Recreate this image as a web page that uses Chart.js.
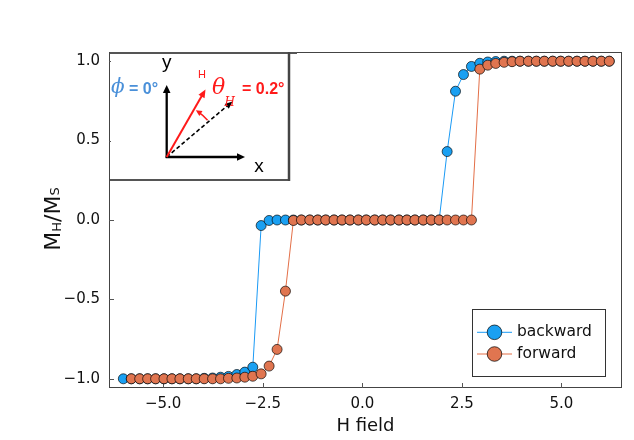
<!DOCTYPE html>
<html><head><meta charset="utf-8">
<script src="https://cdn.jsdelivr.net/npm/chart.js@4/dist/chart.umd.min.js"></script>
<style>html,body{margin:0;padding:0;background:#fff;overflow:hidden;}</style>
</head><body>
<canvas id="c" width="634" height="440"></canvas>
<script>
// ---- data ----
const hField = [-6.00,-5.80,-5.59,-5.39,-5.19,-4.98,-4.78,-4.58,-4.37,-4.17,
  -3.97,-3.76,-3.56,-3.36,-3.15,-2.95,-2.75,-2.54,-2.34,-2.14,
  -1.93,-1.73,-1.53,-1.32,-1.12,-0.92,-0.71,-0.51,-0.31,-0.10,
  0.10,0.31,0.51,0.71,0.92,1.12,1.32,1.53,1.73,1.93,
  2.13,2.34,2.54,2.74,2.95,3.15,3.35,3.56,3.76,3.96,
  4.17,4.37,4.57,4.78,4.98,5.18,5.39,5.59,5.79,6.00,6.20];
const backward = [-1.0,-1.0,-1.0,-1.0,-1.0,-1.0,-1.0,-1.0,-1.0,-1.0,
  -0.997,-0.995,-0.99,-0.985,-0.973,-0.958,-0.927,-0.035,-0.003,0.0,
  0.0,0.0,0.0,0.0,0.0,0.0,0.0,0.0,0.0,0.0,
  0.0,0.0,0.0,0.0,0.0,0.0,0.0,0.0,0.0,0.0,
  0.431,0.811,0.916,0.967,0.987,0.995,0.998,1.0,1.0,1.0,
  1.0,1.0,1.0,1.0,1.0,1.0,1.0,1.0,1.0,1.0,1.0];
const forward = [null,-1.0,-1.0,-1.0,-1.0,-1.0,-1.0,-1.0,-1.0,-1.0,
  -1.0,-1.0,-1.0,-0.997,-0.995,-0.99,-0.984,-0.969,-0.92,-0.815,
  -0.448,-0.003,0.0,0.0,0.0,0.0,0.0,0.0,0.0,0.0,
  0.0,0.0,0.0,0.0,0.0,0.0,0.0,0.0,0.0,0.0,
  0.0,0.0,0.0,0.0,0.95,0.975,0.986,0.993,0.997,1.0,
  1.0,1.0,1.0,1.0,1.0,1.0,1.0,1.0,1.0,1.0,1.0];
const seriesNames = ['backward','forward'];
const seriesColors = ['#1aa0f2','#e07550'];
const xTicks = [-5.0,-2.5,0.0,2.5,5.0];
const yTicks = [-1.0,-0.5,0.0,0.5,1.0];
const xTitle = 'H field';

const fmt = v => (v < 0 ? '\u2212' : '') + Math.abs(v).toFixed(1);
const FONT = 'DejaVu Sans';

function pts(ys){ return hField.map((x,i)=>({x:x, y:ys[i]})).filter(p=>p.y!==null); }

function arrowHead(ctx,x1,y1,x2,y2,len,w,color){
  const a=Math.atan2(y2-y1,x2-x1), c=Math.cos(a), s=Math.sin(a);
  ctx.save(); ctx.fillStyle=color; ctx.beginPath();
  ctx.moveTo(x2,y2);
  ctx.lineTo(x2-len*c+w*s, y2-len*s-w*c);
  ctx.lineTo(x2-len*c-w*s, y2-len*s+w*c);
  ctx.closePath(); ctx.fill(); ctx.restore();
}

const framePlugin = {
  id:'frame',
  beforeDatasetsDraw(chart){
    const {ctx, chartArea:a, scales:{x,y}} = chart;
    ctx.save();
    ctx.strokeStyle='#444'; ctx.lineWidth=1;
    ctx.strokeRect(a.left+0.5, a.top+0.5, a.right-a.left-1, a.bottom-a.top-1);
    ctx.strokeStyle='#555';
    ctx.beginPath();
    xTicks.forEach(v=>{const px=Math.round(x.getPixelForValue(v))+0.5; ctx.moveTo(px,a.bottom); ctx.lineTo(px,a.bottom-5);});
    yTicks.forEach(v=>{const py=Math.round(y.getPixelForValue(v))+0.5; ctx.moveTo(a.left,py); ctx.lineTo(a.left+5,py);});
    ctx.stroke();
    // y axis title with subscripts
    ctx.translate(60, 219); ctx.rotate(-Math.PI/2);
    ctx.fillStyle='#111'; ctx.textBaseline='alphabetic'; ctx.textAlign='left';
    const segs=[['M',22,0],['H',13,0.5],['/',22,0],['M',22,0],['S',13,-1.5]];
    let total=0;
    segs.forEach(s=>{ctx.font=s[1]+'px "'+FONT+'"'; total+=ctx.measureText(s[0]).width;});
    let cx=-total/2;
    segs.forEach(s=>{ctx.font=s[1]+'px "'+FONT+'"'; ctx.fillText(s[0],cx,s[2]); cx+=ctx.measureText(s[0]).width;});
    ctx.restore();
  }
};

const legendPlugin = {
  id:'customLegend',
  afterDatasetsDraw(chart){
    const ctx=chart.ctx;
    ctx.save();
    ctx.fillStyle='#fff'; ctx.fillRect(472,309,133,67);
    ctx.strokeStyle='#333'; ctx.lineWidth=1;
    ctx.strokeRect(472.5,309.5,133,67);
    const ys=[332.3,354];
    chart.data.datasets.forEach((ds,i)=>{
      const y=ys[i];
      ctx.strokeStyle=ds.borderColor; ctx.lineWidth=1;
      ctx.beginPath(); ctx.moveTo(477,y); ctx.lineTo(512,y); ctx.stroke();
      ctx.beginPath(); ctx.arc(494.5,y,7.3,0,Math.PI*2);
      ctx.fillStyle=ds.pointBackgroundColor; ctx.fill();
      ctx.strokeStyle='rgba(0,0,0,0.7)'; ctx.stroke();
      ctx.fillStyle='#111'; ctx.font='15.5px "'+FONT+'"';
      ctx.textBaseline='middle'; ctx.textAlign='left';
      ctx.fillText(ds.label,517,y);
    });
    ctx.restore();
  }
};

const insetPlugin = {
  id:'inset',
  afterDraw(chart){
    const ctx=chart.ctx;
    ctx.save();
    ctx.fillStyle='#fff'; ctx.fillRect(111,53,178,127);
    ctx.strokeStyle='#555'; ctx.lineWidth=2;
    ctx.beginPath(); ctx.moveTo(110,53); ctx.lineTo(297,53); ctx.stroke();
    ctx.beginPath(); ctx.moveTo(110,180); ctx.lineTo(290,180); ctx.stroke();
    ctx.strokeStyle='#444'; ctx.lineWidth=2.5;
    ctx.beginPath(); ctx.moveTo(289,52); ctx.lineTo(289,181); ctx.stroke();
    const ox=166.7, oy=157;
    // axes
    ctx.strokeStyle='#000'; ctx.lineWidth=2.3; ctx.lineCap='butt';
    ctx.beginPath(); ctx.moveTo(ox,oy+1); ctx.lineTo(ox,92); ctx.stroke();
    arrowHead(ctx,ox,oy,ox,85,8,3.8,'#000');
    ctx.beginPath(); ctx.moveTo(ox-1,oy); ctx.lineTo(238,oy); ctx.stroke();
    arrowHead(ctx,ox,oy,245,oy,8,3.8,'#000');
    // dashed reference
    ctx.lineWidth=1.6; ctx.setLineDash([4,2.5]);
    ctx.beginPath(); ctx.moveTo(ox,oy); ctx.lineTo(227,106); ctx.stroke();
    ctx.setLineDash([]);
    arrowHead(ctx,ox,oy,232.5,101.5,7.5,3.2,'#000');
    // red field arrow
    ctx.strokeStyle='#ff1a1a'; ctx.lineWidth=2;
    ctx.beginPath(); ctx.moveTo(ox,oy); ctx.lineTo(202,95.5); ctx.stroke();
    arrowHead(ctx,ox,oy,205.5,89.5,8,3.5,'#ff1a1a');
    // angle arc
    ctx.lineWidth=1.5;
    const r=55, a1=-42*Math.PI/180, a2=-55*Math.PI/180;
    ctx.beginPath(); ctx.arc(ox,oy,r,a1,a2,true); ctx.stroke();
    const ae=-58*Math.PI/180;
    const ex=ox+r*Math.cos(ae), ey=oy+r*Math.sin(ae);
    const dx=Math.sin(ae), dy=-Math.cos(ae);
    arrowHead(ctx,ex-dx*6,ey-dy*6,ex,ey,6,3,'#ff1a1a');
    // labels
    ctx.textAlign='center'; ctx.textBaseline='alphabetic';
    ctx.fillStyle='#000';
    ctx.font='19px "Liberation Sans"'; ctx.fillText('y',166.7,68);
    ctx.font='19px "Liberation Sans"'; ctx.fillText('x',259,171.5);
    ctx.fillStyle='#ff1a1a';
    ctx.font='11px "Liberation Sans"'; ctx.fillText('H',202,77.5);
    ctx.textAlign='left';
    ctx.fillStyle='#4a90d9';
    ctx.font='italic 20px "DejaVu Serif"'; ctx.fillText('\u03D5',111,93);
    ctx.font='bold 16px "Liberation Sans"'; ctx.fillText('= 0\u00B0',129,94);
    ctx.fillStyle='#ff1a1a';
    ctx.font='italic 22px "DejaVu Serif"'; ctx.fillText('\u03B8',212,94);
    ctx.font='italic 12px "DejaVu Serif"'; ctx.fillText('H',224.5,105.5);
    ctx.font='bold 16px "Liberation Sans"'; ctx.fillText('= 0.2\u00B0',242,94);
    ctx.restore();
  }
};

new Chart(document.getElementById('c'), {
  type:'line',
  data:{datasets:[
    {label:seriesNames[0], data:pts(backward), order:1, borderColor:'#1a9af5', borderWidth:1,
     pointBackgroundColor:seriesColors[0], pointBorderColor:'rgba(0,0,0,0.65)', pointBorderWidth:1,
     pointRadius:5, tension:0, fill:false},
    {label:seriesNames[1], data:pts(forward), order:0, borderColor:'#e36f47', borderWidth:1,
     pointBackgroundColor:seriesColors[1], pointBorderColor:'rgba(0,0,0,0.65)', pointBorderWidth:1,
     pointRadius:5, tension:0, fill:false}
  ]},
  options:{
    responsive:false, animation:false,
    layout:{padding:{left:0,right:12,top:52,bottom:0}},
    plugins:{legend:{display:false}, tooltip:{enabled:false}},
    scales:{
      x:{type:'linear', min:-6.36, max:6.52,
        grid:{display:false, drawTicks:false}, border:{display:false},
        afterBuildTicks:s=>{s.ticks=xTicks.map(v=>({value:v}));},
        afterFit:s=>{s.height=52;},
        ticks:{padding:7, color:'#111', font:{family:FONT,size:15}, maxRotation:0, autoSkip:false, callback:v=>fmt(v)},
        title:{display:true, text:xTitle, color:'#111', font:{family:FONT,size:18}, padding:{top:0,bottom:3}}},
      y:{type:'linear', min:-1.058, max:1.058,
        grid:{display:false, drawTicks:false}, border:{display:false},
        afterBuildTicks:s=>{s.ticks=yTicks.map(v=>({value:v}));},
        afterFit:s=>{s.width=109;},
        ticks:{padding:9, color:'#111', font:{family:FONT,size:15}, autoSkip:false, callback:v=>fmt(v)}}
    }
  },
  plugins:[framePlugin, legendPlugin, insetPlugin]
});
</script>
</body></html>
